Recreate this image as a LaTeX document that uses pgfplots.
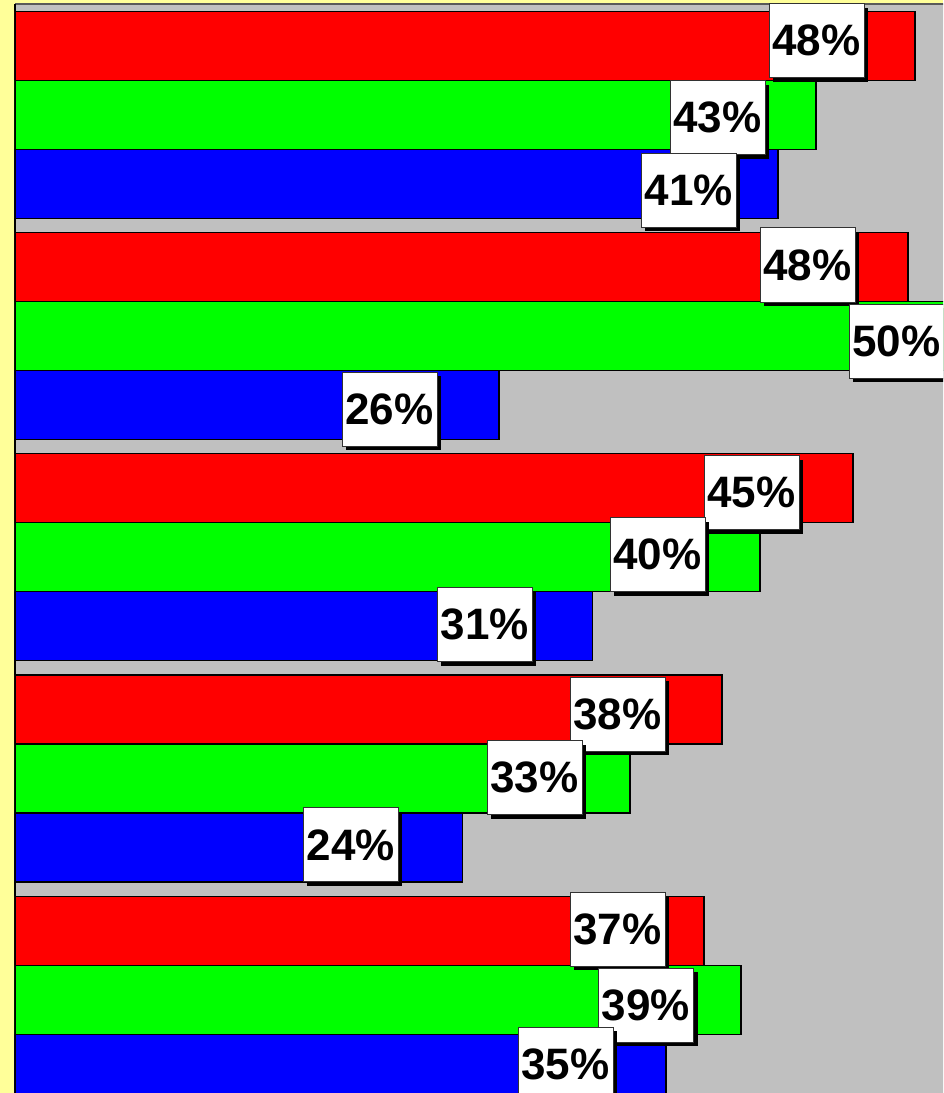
\documentclass[border=0pt]{standalone}
\usepackage{pgfplots}
\pgfplotsset{compat=1.18}
\usepackage{pgfplotstable}
\usepackage{fontspec}
\setmainfont{Liberation Sans}
\usetikzlibrary{shadows}

\definecolor{plotgray}{HTML}{C0C0C0}
\definecolor{bgyellow}{HTML}{FFFF99}
\definecolor{barred}{HTML}{FF0000}
\definecolor{bargreen}{HTML}{00FF00}
\definecolor{barblue}{HTML}{0000FF}

% g = group, val = bar length, lab = printed label, dx/dy = label offset (pt)
\pgfplotstableread{
g val lab dx dy
0 48.00 48 -73.9 3.75
1 47.63 48 -75.4 1.5
2 44.69 45 -76.1 -3.4
3 37.71 38 -78.4 -3.4
4 36.75 37 -64.9 1.1
}\redtab
\pgfplotstableread{
g val lab dx dy
0 42.72 43 -73.9 -2.25
1 50.20 50 -44.8 -3.75
2 39.73 40 -76.9 1.9
3 32.80 33 -71.6 0.4
4 38.72 39 -71.25 -4.1
}\greentab
\pgfplotstableread{
g val lab dx dy
0 40.69 41 -66.75 -4.9
1 25.81 26 -82.1 -3.4
2 30.81 31 -81 1.1
3 23.88 24 -84 1.9
4 34.72 35 -75.4 3.4
}\bluetab

\pgfplotsset{
  lbl/.style={
    draw=none, fill=none, forget plot,
    point meta=explicit symbolic,
    nodes near coords={\pgfplotspointmeta\%},
    visualization depends on={\thisrow{dx}\as\dx},
    visualization depends on={\thisrow{dy}\as\dy},
    every node near coord/.append style={
      anchor=center, xshift=\dx pt, yshift=\dy pt,
      font=\bfseries\fontsize{33}{38}\selectfont, text=black,
      draw=black!80, line width=0.6pt, fill=white,
      minimum width=71.25pt, minimum height=55.5pt, inner sep=0pt,
      drop shadow={shadow xshift=3pt, shadow yshift=-3pt, fill=black, opacity=1}
    }
  }
}

\begin{document}
\begin{tikzpicture}
\path[use as bounding box] (0,0) rectangle (707.25pt,-819.75pt);
\clip (0,0) rectangle (707.25pt,-819.75pt);
\fill[bgyellow] (0,0) rectangle (707.25pt,-819.75pt);
\begin{axis}[
  at={(11.25pt,-3pt)}, anchor=north west,
  scale only axis, width=731.25pt, height=829.7pt,
  xbar, bar width=51.75pt,
  xmin=0, xmax=52, ymin=-0.5, ymax=4.5, y dir=reverse,
  xtick=\empty, ytick=\empty,
  separate axis lines,
  x axis line style={draw=gray!70!black, line width=1.5pt},
  y axis line style={draw=black, line width=1.5pt},
  axis background/.style={fill=plotgray},
  every axis plot/.append style={draw=black, line width=0.9pt},
]
\addplot[fill=barred, bar shift=51.75pt] table[x=val,y=g]{\redtab};
\addplot[fill=bargreen, bar shift=0pt] table[x=val,y=g]{\greentab};
\addplot[fill=barblue, bar shift=-51.75pt] table[x=val,y=g]{\bluetab};

\addplot[lbl, bar shift=51.75pt] table[x=val,y=g,meta=lab]{\redtab};
\addplot[lbl, bar shift=0pt] table[x=val,y=g,meta=lab]{\greentab};
\addplot[lbl, bar shift=-51.75pt] table[x=val,y=g,meta=lab]{\bluetab};
\end{axis}
\end{tikzpicture}
\end{document}
